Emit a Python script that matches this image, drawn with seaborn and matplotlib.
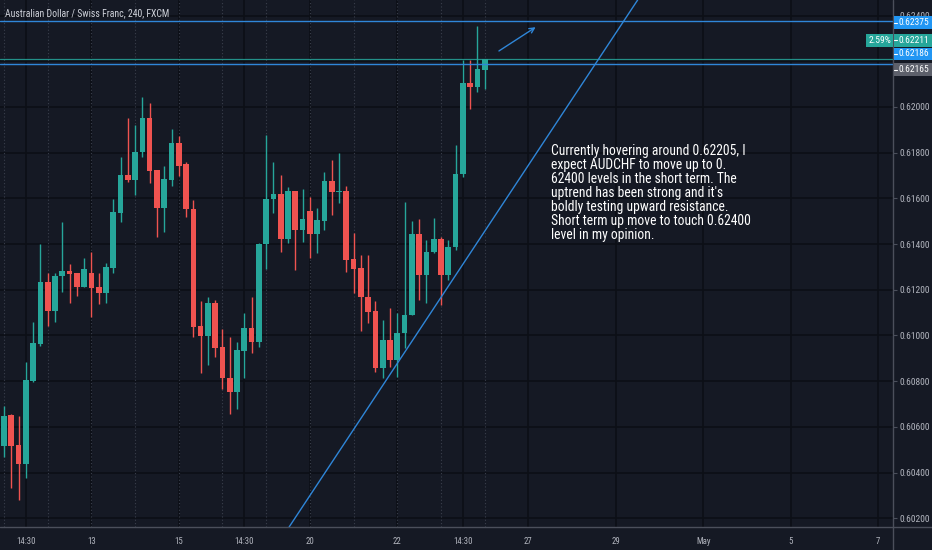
import os
import matplotlib
matplotlib.use('Agg')
import matplotlib.pyplot as plt
from matplotlib import font_manager
from matplotlib.lines import Line2D
from matplotlib.patches import Rectangle
import numpy as np
import pandas as pd
import seaborn as sns

# AUDCHF 4h candles (FXCM)
opens = [0.60518, 0.60652, 0.60521, 0.60436, 0.60802, 0.60964, 0.61236, 0.61109, 0.61260, 0.61284,
         0.61272, 0.61214, 0.61275, 0.61214, 0.61187, 0.61297, 0.61535, 0.61702, 0.61681, 0.61802,
         0.61953, 0.61724, 0.61559, 0.61681, 0.61844, 0.61749, 0.61554, 0.61042, 0.60998, 0.61144,
         0.60951, 0.60815, 0.60754, 0.60934, 0.61032, 0.60973, 0.61400, 0.61597, 0.61619, 0.61424,
         0.61632, 0.61462, 0.61545, 0.61444, 0.61502, 0.61677, 0.61629, 0.61634, 0.61333, 0.61294,
         0.61170, 0.61107, 0.60856, 0.60980, 0.60893, 0.61010, 0.61090, 0.61444, 0.61265, 0.61367,
         0.61422, 0.61265, 0.61389, 0.61705, 0.62104, 0.62089, 0.62162]
highs = [0.60692, 0.60655, 0.60648, 0.60883, 0.61060, 0.61400, 0.61272, 0.61274, 0.61498, 0.61313,
         0.61274, 0.61338, 0.61364, 0.61275, 0.61316, 0.61596, 0.61780, 0.61951, 0.61921, 0.62044,
         0.62016, 0.61724, 0.61742, 0.61904, 0.61874, 0.61761, 0.61593, 0.61151, 0.61170, 0.61155,
         0.61027, 0.60992, 0.60973, 0.61099, 0.61167, 0.61405, 0.61877, 0.61761, 0.61702, 0.61651,
         0.61632, 0.61640, 0.61607, 0.61557, 0.61714, 0.61768, 0.61797, 0.61654, 0.61447, 0.61352,
         0.61352, 0.61151, 0.61068, 0.61119, 0.61097, 0.61586, 0.61501, 0.61510, 0.61418, 0.61513,
         0.61432, 0.61418, 0.61834, 0.62206, 0.62206, 0.62354, 0.62211]
lows = [0.60470, 0.60333, 0.60280, 0.60375, 0.60798, 0.60954, 0.61043, 0.61060, 0.61192, 0.61141,
        0.61173, 0.61212, 0.61082, 0.61138, 0.61141, 0.61272, 0.61498, 0.61672, 0.61615, 0.61783,
        0.61666, 0.61432, 0.61454, 0.61654, 0.61698, 0.61520, 0.60992, 0.60837, 0.60871, 0.60907,
        0.60765, 0.60657, 0.60677, 0.60813, 0.60925, 0.60951, 0.61291, 0.61537, 0.61364, 0.61406,
        0.61287, 0.61411, 0.61338, 0.61360, 0.61462, 0.61527, 0.61579, 0.61279, 0.61185, 0.61021,
        0.61053, 0.60842, 0.60813, 0.60863, 0.60820, 0.60944, 0.61090, 0.61155, 0.61141, 0.61360,
        0.61134, 0.61243, 0.61374, 0.61695, 0.61990, 0.62067, 0.62077]
closes = [0.60648, 0.60518, 0.60436, 0.60805, 0.60967, 0.61236, 0.61109, 0.61262, 0.61284, 0.61269,
          0.61214, 0.61290, 0.61209, 0.61187, 0.61298, 0.61539, 0.61702, 0.61681, 0.61804, 0.61953,
          0.61721, 0.61559, 0.61685, 0.61844, 0.61743, 0.61552, 0.61036, 0.60998, 0.61144, 0.60947,
          0.60813, 0.60754, 0.60937, 0.61032, 0.60973, 0.61400, 0.61597, 0.61619, 0.61424, 0.61632,
          0.61462, 0.61509, 0.61444, 0.61505, 0.61677, 0.61629, 0.61634, 0.61330, 0.61290, 0.61170,
          0.61104, 0.60856, 0.60980, 0.60893, 0.61010, 0.61090, 0.61444, 0.61265, 0.61367, 0.61422,
          0.61265, 0.61389, 0.61705, 0.62104, 0.62089, 0.62165, 0.62211]

# bar-index positions of the time axis labels
date_ticks = [3, 12, 24, 33, 42, 54, 63, 72, 84, 96, 108, 120]
date_labels = ['14:30', '13', '15', '14:30', '20', '22', '14:30', '27', '29', 'May', '5', '7']
price_ticks = [0.602, 0.604, 0.606, 0.608, 0.610, 0.612, 0.614, 0.616, 0.618, 0.620, 0.624]

# drawings
resistance_levels = [0.62375, 0.62186]
last_price = 0.62211
trend_x = [51.6, 68.1]
trend_y = [0.60762, 0.61557]
arrow_x = [67.96, 73.0]
arrow_y = [0.62245, 0.62349]

# labels on the price scale
scale_labels = ['0.62375', '0.62211', '0.62186', '0.62165']
scale_colors = ['#2196f3', '#26a69a', '#2196f3', '#5d606b']
change_label = '2.59%'

title = 'Australian Dollar / Swiss Franc, 240, FXCM'
note = ("Currently hovering around 0.62205, I\n"
        "expect AUDCHF to move up to 0.\n"
        "62400 levels in the short term. The\n"
        "uptrend has been strong and it's\n"
        "boldly testing upward resistance.\n"
        "Short term up move to touch 0.62400\n"
        "level in my opinion.")

BG = '#151924'
GRID = '#0c0f16'
UP = '#26a69a'
DOWN = '#ef5350'
BLUE = '#2f86d8'
AXIS = '#4b4f5b'
TXT = '#b2b5be'


def narrow_font():
    """Find a condensed/narrow sans face if one is installed."""
    prefs = ['LiberationSansNarrow-Regular.ttf', 'RobotoCondensed-Regular.ttf',
             'DejaVuSansCondensed.ttf', 'NotoSans-Condensed.ttf',
             'OpenSans_Condensed-Regular.ttf', 'OpenSans-CondensedRegular.ttf']
    files = {os.path.basename(f.fname): f.fname for f in font_manager.fontManager.ttflist}
    for p in prefs:
        if p in files:
            return font_manager.FontProperties(fname=files[p])
    for base, path in files.items():
        low = base.lower()
        if ('condensed' in low or 'narrow' in low) and not any(
                k in low for k in ['bold', 'italic', 'oblique', 'light', 'thin', 'black', 'medium', 'semi', 'extra']):
            return font_manager.FontProperties(fname=path)
    for fam in ['Roboto', 'Liberation Sans', 'DejaVu Sans']:
        try:
            font_manager.findfont(font_manager.FontProperties(family=fam), fallback_to_default=False)
            return font_manager.FontProperties(family=fam)
        except ValueError:
            pass
    return font_manager.FontProperties(family='DejaVu Sans')


sns.set_style('dark', rc={'axes.facecolor': BG, 'figure.facecolor': BG,
                          'axes.edgecolor': AXIS, 'text.color': TXT,
                          'xtick.color': AXIS, 'ytick.color': AXIS})
plt.rcParams['font.family'] = ['DejaVu Sans']
FP = narrow_font()

df = pd.DataFrame({'open': opens, 'high': highs, 'low': lows, 'close': closes})
df['up'] = df['close'] >= df['open']
df['color'] = np.where(df['up'], UP, DOWN)
df['body_lo'] = df[['open', 'close']].min(axis=1)
df['body_h'] = (df['close'] - df['open']).abs().clip(lower=0.00003)

W, H = 932, 550
fig = plt.figure(figsize=(W / 100, H / 100), dpi=100)
ax = fig.add_axes([0, 23 / H, 893 / W, 527 / H])
renderer = fig.canvas.get_renderer()


def measure(s, size):
    t = fig.text(0, 0, s, fontproperties=FP, fontsize=size)
    bb = t.get_window_extent(renderer)
    t.remove()
    return bb.width, bb.height


def fit(s, target_w, max_size):
    w, _ = measure(s, 10)
    return min(max_size, 10 * target_w / w)


tick_size = fit('0.62000', 30, 8.2)
title_size = fit(title, 163, 9)
note_size = fit('Currently hovering around 0.62205, I', 194, 10.5)
date_size = fit('14:30', 19, 7.8)
lp_h = measure('lp', note_size)[1]

ax.set_xlim(-0.55, 122.07)
ax.set_ylim(0.60162, 0.62468)

# grid: solid at ticks, dotted session breaks
for p in price_ticks + [0.622]:
    ax.axhline(p, color=GRID, lw=1.2, zorder=0)
for t in date_ticks:
    ax.axvline(t, color=GRID, lw=1.2, zorder=0)
for i in range(0, len(df), 6):
    ax.axvline(i, color='#3a3f4c', lw=0.8, ls=(0, (1, 2)), zorder=0.5)

# candles
ax.vlines(df.index, df['low'], df['high'], colors=df['color'], lw=1, zorder=2)
ax.bar(df.index, df['body_h'], bottom=df['body_lo'], width=0.78,
       color=df['color'], lw=0, zorder=3)

# drawings
for lvl in resistance_levels:
    ax.axhline(lvl, color=BLUE, lw=1, zorder=4)
ax.axhline(last_price, color=UP, lw=0.9, alpha=0.85, zorder=4)
ax.axline((trend_x[0], trend_y[0]), (trend_x[1], trend_y[1]), color=BLUE, lw=1, zorder=4)
ax.annotate('', xy=(arrow_x[1], arrow_y[1]), xytext=(arrow_x[0], arrow_y[0]),
            arrowprops=dict(arrowstyle='->', color=BLUE, lw=1, mutation_scale=9,
                            shrinkA=0, shrinkB=0), zorder=4)

ax.text(0.0056, 0.985, title, transform=ax.transAxes, ha='left', va='top',
        fontproperties=FP, fontsize=title_size, color='#d1d4dc')
ax.text(0.617, 0.727, note, transform=ax.transAxes, ha='left', va='top',
        fontproperties=FP, fontsize=note_size, color='#ffffff',
        linespacing=14.0 / lp_h)

# axes styling
for s in ['top', 'left', 'right', 'bottom']:
    ax.spines[s].set_visible(False)
ax.yaxis.tick_right()
ax.set_yticks(price_ticks)
ax.set_yticklabels([f'{p:.5f}' for p in price_ticks], fontproperties=FP)
ax.set_xticks(date_ticks)
ax.set_xticklabels(date_labels, fontproperties=FP)
ax.tick_params(axis='y', length=3, width=0.8, colors=AXIS, labelcolor=TXT,
               labelsize=tick_size, pad=2)
ax.tick_params(axis='x', length=3, width=0.8, colors=AXIS, labelcolor=TXT,
               labelsize=date_size, pad=4)
ax.grid(False)

fig.add_artist(Line2D([893 / W, 893 / W], [0, 1], color=AXIS, lw=1, transform=fig.transFigure))
fig.add_artist(Line2D([0, 1], [23 / H, 23 / H], color=AXIS, lw=1, transform=fig.transFigure))

# price scale labels (stacked like the platform does)
label_rows = [22.5, 40.3, 54.0, 69.7]
for txt, col, yc in zip(scale_labels, scale_colors, label_rows):
    yf = 1 - yc / H
    fig.add_artist(Rectangle((893.5 / W, yf - 6.4 / H), 38.5 / W, 12.8 / H,
                             transform=fig.transFigure, color=col, lw=0, zorder=5))
    fig.add_artist(Line2D([893.5 / W, 896.5 / W], [yf, yf], color='white', lw=0.8,
                          transform=fig.transFigure, zorder=6))
    fig.text(898.5 / W, yf, txt, ha='left', va='center', fontproperties=FP,
             fontsize=tick_size, color='white', zorder=7)
yf = 1 - label_rows[1] / H
fig.add_artist(Rectangle((865.7 / W, yf - 6.4 / H), 27.3 / W, 12.8 / H,
                         transform=fig.transFigure, color=UP, lw=0, zorder=5))
fig.text(879.5 / W, yf, change_label, ha='center', va='center', fontproperties=FP,
         fontsize=tick_size, color='white', zorder=7)

fig.savefig('out.png', dpi=100, facecolor=BG)
